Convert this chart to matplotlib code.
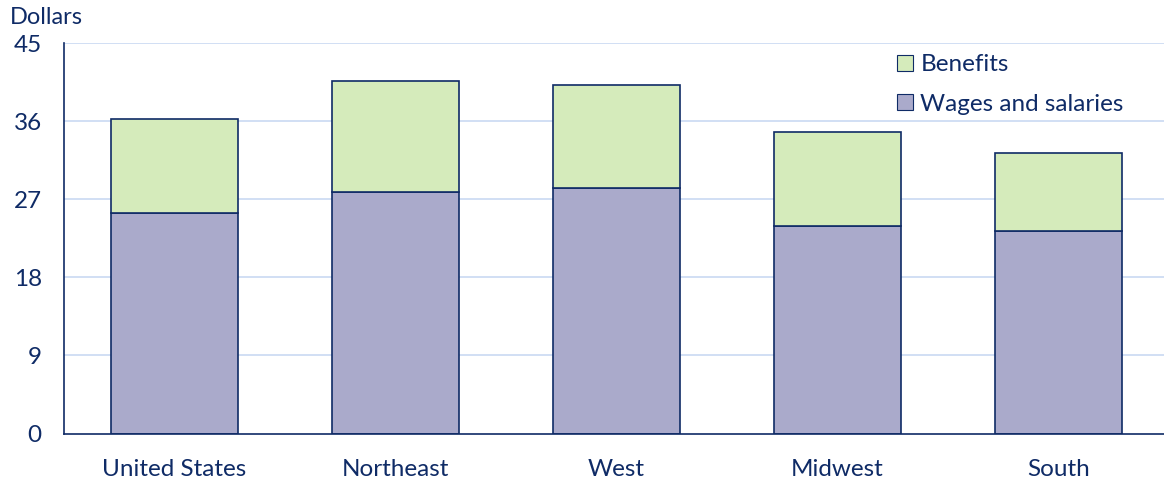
import matplotlib
matplotlib.use("Agg")
import matplotlib.pyplot as plt
from matplotlib.patches import Patch

categories = ["United States", "Northeast", "West", "Midwest", "South"]
wages = [25.43, 27.85, 28.28, 23.93, 23.36]
benefits = [10.80, 12.81, 11.91, 10.81, 8.96]
yticks = [0, 9, 18, 27, 36, 45]

NAVY = "#0f2b66"
WAGE_C = "#aaaacb"
BEN_C = "#d5ebbb"
GRID_C = "#c9d9f2"

plt.rcParams['font.family'] = ['Lato', 'DejaVu Sans']

W, H = 1164, 482
fig = plt.figure(figsize=(W / 100, H / 100), dpi=100)
left, right, bottom, top = 64, 1164, 433.5, 43.3
ax = fig.add_axes([left / W, (H - bottom) / H, (right - left) / W, (bottom - top) / H])

x = list(range(len(categories)))
bw = 127 / 221
ax.bar(x, wages, width=bw, color=WAGE_C, edgecolor=NAVY, linewidth=1.2, zorder=3,
       label="Wages and salaries")
ax.bar(x, benefits, width=bw, bottom=wages, color=BEN_C, edgecolor=NAVY, linewidth=1.2,
       zorder=3, label="Benefits")

ax.set_xlim(-0.5, -0.5 + (right - left) / 221)
ax.set_ylim(0, 45)
ax.set_yticks(yticks)
ax.set_yticklabels([str(v) for v in yticks])
ax.set_xticks(x)
ax.set_xticklabels(categories)

for v in yticks[1:]:
    ax.axhline(v, color=GRID_C, linewidth=1.2, zorder=1)

for s in ["top", "right"]:
    ax.spines[s].set_visible(False)
for s in ["left", "bottom"]:
    ax.spines[s].set_color(NAVY)
    ax.spines[s].set_linewidth(1.2)
    ax.spines[s].set_zorder(4)

ax.tick_params(axis="y", length=0, pad=16, labelsize=17.5, labelcolor=NAVY)
ax.tick_params(axis="x", length=0, pad=18.5, labelsize=17.5, labelcolor=NAVY)

fig.text(10 / W, 1 - 17 / H, "Dollars", fontsize=17, color=NAVY, ha="left", va="center")

handles = [Patch(facecolor=BEN_C, edgecolor=NAVY, linewidth=0.8),
           Patch(facecolor=WAGE_C, edgecolor=NAVY, linewidth=0.8)]
leg = fig.legend(handles, ["Benefits", "Wages and salaries"],
                 loc="upper left", bbox_to_anchor=(890 / W, 1 - 47 / H),
                 frameon=False, fontsize=17.5, labelcolor=NAVY,
                 handlelength=0.65, handleheight=0.65, handletextpad=0.3,
                 labelspacing=0.75, borderaxespad=0, borderpad=0.3)

fig.savefig("out.png", dpi=100, facecolor="white")
